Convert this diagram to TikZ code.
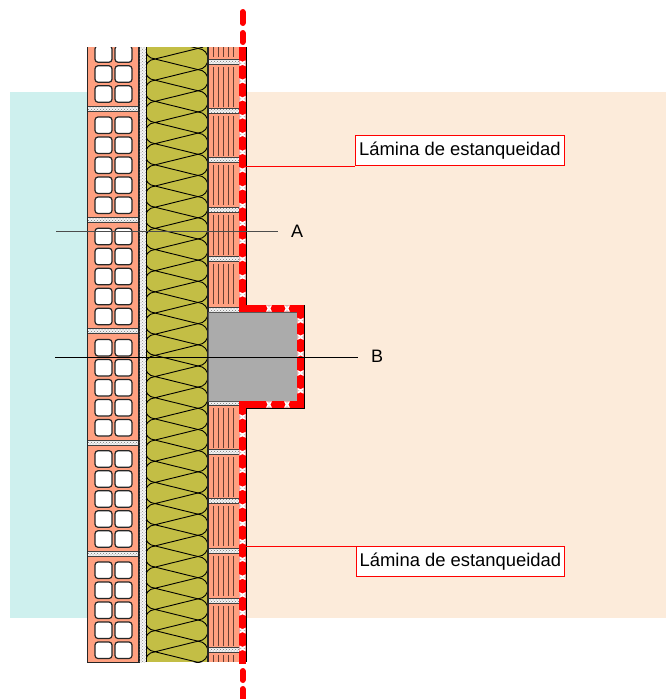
\documentclass[tikz,border=0pt]{standalone}
\usepackage{fontspec}
\setmainfont{Liberation Sans}
\usetikzlibrary{patterns}
\definecolor{bgblue}{HTML}{CEF0EE}
\definecolor{bgpeach}{HTML}{FCEBDA}
\definecolor{brickcol}{HTML}{FFA080}
\definecolor{insulcol}{HTML}{C3BE45}
\tikzset{
    wallline/.style={draw=black!85,line width=1.3pt},
    mortar/.style={preaction={fill=gray!8},pattern=crosshatch dots,pattern color=black!55,draw=black!75,line width=.8pt},
    holebox/.style={fill=white,draw=black!85,line width=1.2pt,rounded corners=3pt},
    insline/.style={draw=black,line width=.9pt},
    lamred/.style={draw=red,line width=6.4pt},
    lamlabel/.style={draw=red,fill=white,line width=.9pt,minimum width=209pt,minimum height=30pt,inner sep=0pt,font=\fontsize{18.4}{20}\selectfont,anchor=south west},
    lamgap/.pic={
        \fill[white] (-3.2,-3) .. controls (-1.5,-1) and (1.5,-1) .. (3.2,-3) -- (3.2,3) .. controls (1.5,1) and (-1.5,1) .. (-3.2,3) -- cycle;
        \fill[gray!55] (-3.2,-.9) -- (-1,0) -- (-3.2,.9) -- cycle;
        \fill[gray!55] (3.2,-.9) -- (1,0) -- (3.2,.9) -- cycle;
    }
}
\begin{document}
\begin{tikzpicture}[x=1pt,y=-1pt]
    \useasboundingbox (0,0) rectangle (666,699);
    \fill[bgblue] (10,92) rectangle (90,618);
    \fill[bgpeach] (244,92) rectangle (666,618);

    \fill[brickcol] (87.5,47) rectangle (139,662);
    \begin{scope}
        \clip (87,47) rectangle (139.5,663);
        \foreach \brick in {5.75,117,228.25,339.5,450.75,562} {
            \foreach \row in {0,...,4} {
                \pgfmathsetmacro\holey{\brick+20*\row}
                \draw[holebox] (95,\holey) rectangle (112,\holey+16.5);
                \draw[holebox] (115,\holey) rectangle (132,\holey+16.5);
            }
        }
    \end{scope}
    \foreach \j in {108.7,220,331,442.5,554}
        \draw[mortar] (87.5,\j-2.4) rectangle (139,\j+2.4);
    \draw[wallline] (87.5,47) -- (87.5,662.5) -- (139,662.5) -- (139,47);
    \fill[gray!8] (139.5,47) rectangle (145.7,662);
    \fill[pattern=crosshatch dots,pattern color=black!45] (139.5,47) rectangle (145.7,662);

    \fill[insulcol] (146,47) rectangle (208,662);
    \begin{scope}
        \clip (146,47) rectangle (208,662);
        \foreach \k in {-1,...,29} {
            \pgfmathsetmacro\ya{59+21.17*\k}
            \draw[insline] (198,\ya-10.6) -- (155,\ya) -- (198,\ya+10.6);
            \draw[insline] (155,\ya) .. controls (142,\ya+1) and (142,\ya+20.17) .. (155,\ya+21.17);
            \draw[insline] (198,\ya-10.6) .. controls (211.3,\ya-9.6) and (211.3,\ya+9.6) .. (198,\ya+10.6);
        }
    \end{scope}
    \draw[insline] (146,47) -- (146,662);

    \fill[brickcol] (208,47) rectangle (240,662);
    \foreach \s/\e in {47/57,67/107,116/156,165/205,215/255,264/304,408/448,457/497,506/546,556/596,606/646,655/662}
        \foreach \v in {213,218.3,223.3,228.3,233.3}
            \draw[black!60!brickcol,line width=1pt] (\v,\s) -- (\v,\e);
    \foreach \j in {62,111,160,210,259,310,403,452,501,551,601,650}
        \draw[mortar] (208,\j-2.4) rectangle (240,\j+2.4);
    \draw[wallline] (208,47) -- (208,662);

    \fill[black!33] (208,312) rectangle (297,401);
    \draw[draw=black!65,line width=1pt] (208,312) -- (297,312) -- (297,401) -- (208,401) -- cycle;

    \draw[black,line width=.8pt] (246,47) -- (246,305) -- (304,305) -- (304,408) -- (246,408) -- (246,662);
    \draw[lamred] (242.5,47) -- (242.5,308.5) -- (300.5,308.5) -- (300.5,404.5) -- (242.5,404.5) -- (242.5,664);
    \draw[lamred,line cap=round,line width=6pt] (242.5,12) -- (242.5,23) (242.5,33) -- (242.5,42) (242.5,671) -- (242.5,680) (242.5,689) -- (242.5,702);
    \foreach \k in {0,...,13} {
        \pgfmathsetmacro\ya{63.3+17.8*\k}
        \pgfmathsetmacro\yb{417+17.8*\k}
        \path (242.5,\ya) pic {lamgap};
        \path (242.5,\yb) pic {lamgap};
    }
    \foreach \q in {320.7,337,354,373,390.7}
        \path (300.5,\q) pic {lamgap};
    \foreach \q in {269,287} {
        \path (\q,308.5) pic[rotate=90] {lamgap};
        \path (\q,404.5) pic[rotate=90] {lamgap};
    }

    \coordinate (aleft) at (56,231);
    \coordinate (aright) at (278,231);
    \coordinate (bleft) at (55,357);
    \coordinate (bright) at (358,357);
    \node[font=\fontsize{18}{20}\selectfont,inner sep=0pt,anchor=west] (labela) at (291,231) {A};
    \node[font=\fontsize{18}{20}\selectfont,inner sep=0pt,anchor=west] (labelb) at (371,356) {B};
    \draw[black!70,line width=.9pt] (aleft) -- (aright);
    \draw[black,line width=.9pt] (bleft) -- (bright);

    \coordinate (lamtop) at (246,166);
    \coordinate (lambot) at (246,546);
    \node[lamlabel] (labeltop) at (355,166) {Lámina de estanqueidad};
    \node[lamlabel,anchor=north west,minimum width=208pt] (labelbot) at (356,546) {Lámina de estanqueidad};
    \draw[red,line width=.9pt] (lamtop) -- (labeltop.south west);
    \draw[red,line width=.9pt] (lambot) -- (labelbot.north west);
\end{tikzpicture}
\end{document}
